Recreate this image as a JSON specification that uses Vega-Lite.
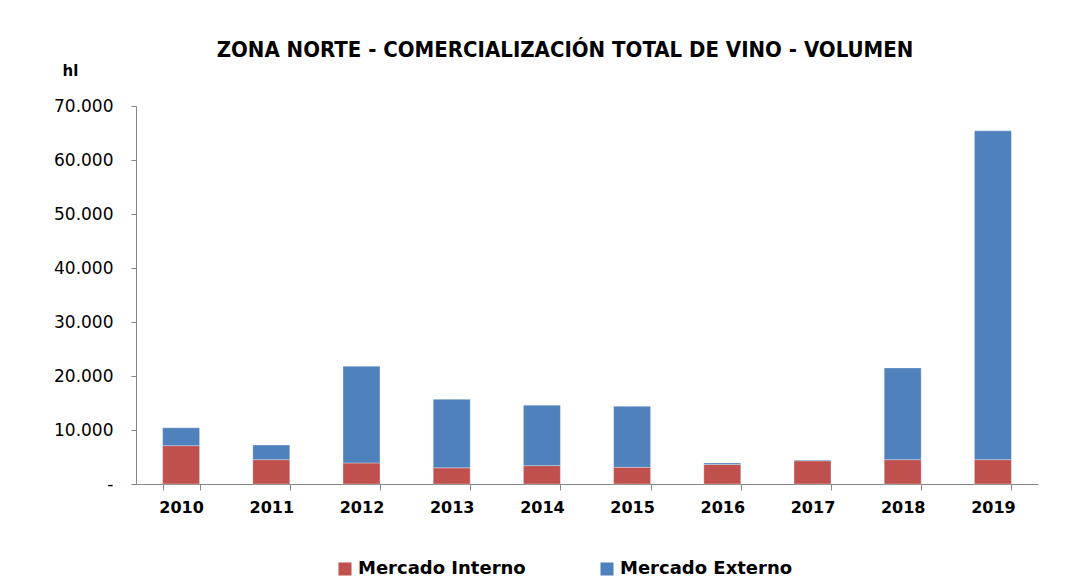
{
  "$schema": "https://vega.github.io/schema/vega-lite/v6.json",
  "autosize": {"type": "none"},
  "padding": {"left": 136, "top": 106, "right": 37, "bottom": 104},
  "width": 902,
  "height": 378,
  "background": "white",
  "title": {
    "text": "ZONA NORTE -  COMERCIALIZACIÓN TOTAL DE VINO - VOLUMEN",
    "font": "DejaVu Sans Condensed",
    "fontSize": 22,
    "fontWeight": "bold",
    "color": "#000000",
    "anchor": "middle",
    "dx": -22,
    "offset": 1
  },
  "data": {
    "values": [
      {"anio": "2010", "serie": "Mercado Interno", "orden": 1, "hl": 7100},
      {"anio": "2010", "serie": "Mercado Externo", "orden": 2, "hl": 3300},
      {"anio": "2011", "serie": "Mercado Interno", "orden": 1, "hl": 4500},
      {"anio": "2011", "serie": "Mercado Externo", "orden": 2, "hl": 2700},
      {"anio": "2012", "serie": "Mercado Interno", "orden": 1, "hl": 3900},
      {"anio": "2012", "serie": "Mercado Externo", "orden": 2, "hl": 17900},
      {"anio": "2013", "serie": "Mercado Interno", "orden": 1, "hl": 3000},
      {"anio": "2013", "serie": "Mercado Externo", "orden": 2, "hl": 12700},
      {"anio": "2014", "serie": "Mercado Interno", "orden": 1, "hl": 3400},
      {"anio": "2014", "serie": "Mercado Externo", "orden": 2, "hl": 11200},
      {"anio": "2015", "serie": "Mercado Interno", "orden": 1, "hl": 3100},
      {"anio": "2015", "serie": "Mercado Externo", "orden": 2, "hl": 11300},
      {"anio": "2016", "serie": "Mercado Interno", "orden": 1, "hl": 3600},
      {"anio": "2016", "serie": "Mercado Externo", "orden": 2, "hl": 300},
      {"anio": "2017", "serie": "Mercado Interno", "orden": 1, "hl": 4300},
      {"anio": "2017", "serie": "Mercado Externo", "orden": 2, "hl": 150},
      {"anio": "2018", "serie": "Mercado Interno", "orden": 1, "hl": 4500},
      {"anio": "2018", "serie": "Mercado Externo", "orden": 2, "hl": 17000},
      {"anio": "2019", "serie": "Mercado Interno", "orden": 1, "hl": 4500},
      {"anio": "2019", "serie": "Mercado Externo", "orden": 2, "hl": 60900}
    ]
  },
  "mark": {"type": "bar", "stroke": "#ffffff", "strokeOpacity": 0.4, "strokeWidth": 0.8},
  "encoding": {
    "x": {
      "field": "anio",
      "type": "ordinal",
      "scale": {"paddingInner": 0.59, "paddingOuter": 0.295},
      "axis": {
        "title": null,
        "labelAngle": 0,
        "labelFont": "DejaVu Sans",
        "labelFontSize": 16,
        "labelFontWeight": "bold",
        "labelColor": "#000000",
        "labelPadding": 9,
        "tickBand": "extent",
        "tickSize": 6,
        "tickColor": "#868686",
        "domainColor": "#868686",
        "grid": false
      }
    },
    "y": {
      "field": "hl",
      "type": "quantitative",
      "stack": "zero",
      "scale": {"domain": [0, 70000], "nice": false},
      "axis": {
        "title": "hl",
        "titleAngle": 0,
        "titleAlign": "left",
        "titleBaseline": "middle",
        "titleX": -74,
        "titleY": -36,
        "titleFont": "DejaVu Sans",
        "titleFontSize": 15,
        "titleFontWeight": "bold",
        "titleColor": "#000000",
        "values": [0, 10000, 20000, 30000, 40000, 50000, 60000, 70000],
        "labelExpr": "datum.value == 0 ? '-' : replace(format(datum.value, ',.0f'), ',', '.')",
        "labelFont": "DejaVu Sans",
        "labelFontSize": 17,
        "labelColor": "#000000",
        "labelPadding": 18,
        "tickSize": 5,
        "tickColor": "#868686",
        "domainColor": "#868686",
        "grid": false
      }
    },
    "color": {
      "field": "serie",
      "type": "nominal",
      "scale": {"domain": ["Mercado Interno", "Mercado Externo"], "range": ["#C0504D", "#4F81BD"]},
      "legend": {
        "title": null,
        "orient": "none",
        "direction": "horizontal",
        "legendX": 200,
        "legendY": 454,
        "symbolType": "square",
        "symbolSize": 170,
        "symbolStrokeWidth": 0,
        "labelFont": "DejaVu Sans",
        "labelFontSize": 18,
        "labelFontWeight": "bold",
        "labelColor": "#000000",
        "labelLimit": 400,
        "columnPadding": 72
      }
    },
    "order": {"field": "orden", "type": "quantitative"}
  },
  "config": {"view": {"stroke": null}}
}
